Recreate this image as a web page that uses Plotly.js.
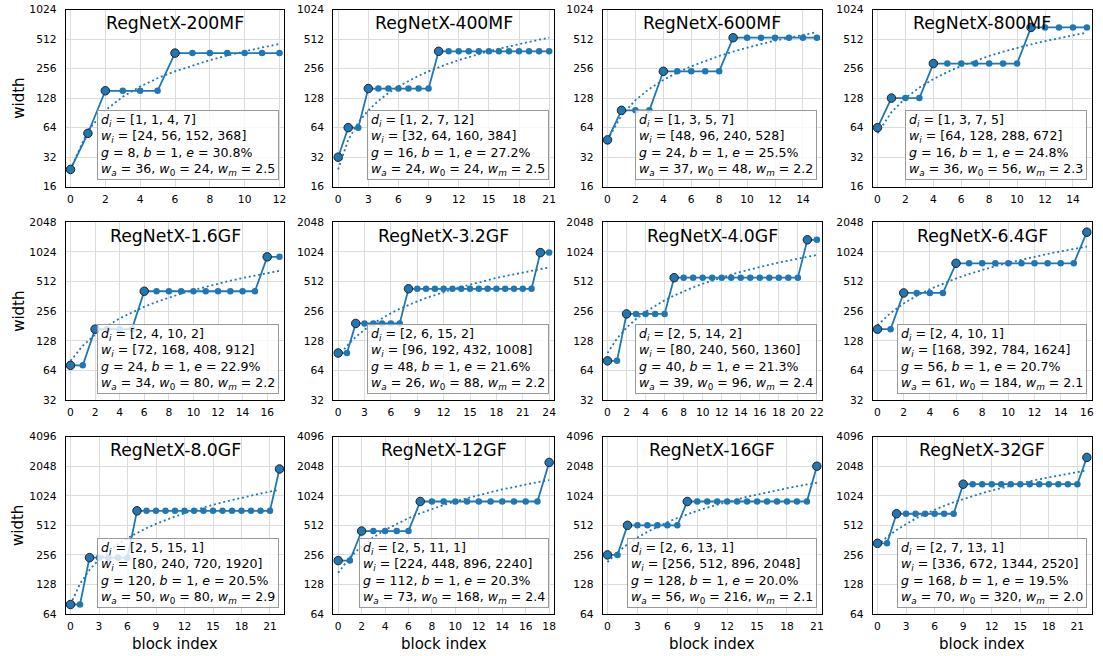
<!DOCTYPE html>
<html><head><meta charset="utf-8">
<script src="https://cdn.plot.ly/plotly-3.0.1.min.js"></script>
<style>html,body{margin:0;padding:0;background:#fff}#chart{width:1103px;height:656px}</style>
</head><body><div id="chart"></div>
<script>
const models = ["RegNetX-200MF","RegNetX-400MF","RegNetX-600MF","RegNetX-800MF",
                "RegNetX-1.6GF","RegNetX-3.2GF","RegNetX-4.0GF","RegNetX-6.4GF",
                "RegNetX-8.0GF","RegNetX-12GF","RegNetX-16GF","RegNetX-32GF"];
const depths = [[1,1,4,7],[1,2,7,12],[1,3,5,7],[1,3,7,5],
                [2,4,10,2],[2,6,15,2],[2,5,14,2],[2,4,10,1],
                [2,5,15,1],[2,5,11,1],[2,6,13,1],[2,7,13,1]];
const widths = [[24,56,152,368],[32,64,160,384],[48,96,240,528],[64,128,288,672],
                [72,168,408,912],[96,192,432,1008],[80,240,560,1360],[168,392,784,1624],
                [80,240,720,1920],[224,448,896,2240],[256,512,896,2048],[336,672,1344,2520]];
const groups = [8,16,24,16,24,48,40,56,120,112,128,168];
const bottleneck = [1,1,1,1,1,1,1,1,1,1,1,1];
const errors = ["30.8","27.2","25.5","24.8","22.9","21.6","21.3","20.7","20.5","20.3","20.0","19.5"];
const wA = [36,24,37,36,34,26,39,61,50,73,56,70];
const w0 = [24,24,48,56,80,88,96,184,80,168,216,320];
const wM = ["2.5","2.5","2.2","2.3","2.2","2.2","2.4","2.1","2.9","2.4","2.1","2.0"];
const rowYTicks = [[16,32,64,128,256,512,1024],[32,64,128,256,512,1024,2048],[64,128,256,512,1024,2048,4096]];
const xTickStep = [2,3,2,2, 2,3,2,2, 3,2,3,3];

const W = 1103, H = 656;
const colPx = [[65.7,284.3],[333.3,554],[602.7,821.7],[872.7,1091.7]];
const rowPx = [[9.5,186.7],[222.3,400],[436.7,614]];
const px = x => x / W, py = y => 1 - y / H;
const BLUE = '#1f77b4';
const FONT = 'DejaVu Sans, sans-serif';

const traces = [], annotations = [];
const layout = {
  width: W, height: H, margin: {l:0,r:0,t:0,b:0},
  paper_bgcolor: '#fff', plot_bgcolor: '#fff', showlegend: false,
  font: {family: FONT, color: '#000'}
};

models.forEach((name, k) => {
  const r = Math.floor(k / 4), c = k % 4;
  const ax = k === 0 ? '' : String(k + 1);
  const xa = 'x' + ax, ya = 'y' + ax;
  const bx = [], by = [], sx = [], sy = [];
  let j = 0;
  depths[k].forEach((d, s) => {
    sx.push(j); sy.push(widths[k][s]);
    for (let t = 0; t < d; t++) { bx.push(j); by.push(widths[k][s]); j++; }
  });
  const N = j;
  const ux = [], uy = [];
  for (let i = 0; i < N; i++) { ux.push(i); uy.push(w0[k] + wA[k] * i); }

  traces.push({x: ux, y: uy, xaxis: xa, yaxis: ya, type: 'scatter', mode: 'lines',
    line: {color: BLUE, width: 1.8, dash: '2px,2.8px'}, hoverinfo: 'skip'});
  traces.push({x: bx, y: by, xaxis: xa, yaxis: ya, type: 'scatter', mode: 'lines+markers',
    line: {color: BLUE, width: 1.8}, marker: {color: BLUE, size: 6.5}, hoverinfo: 'skip'});
  traces.push({x: sx, y: sy, xaxis: xa, yaxis: ya, type: 'scatter', mode: 'markers',
    marker: {color: BLUE, size: 8.5, line: {color: '#222', width: 1}}, hoverinfo: 'skip'});

  const m = 0.023 * (N - 1);
  const yt = rowYTicks[r];
  layout['xaxis' + ax] = {
    domain: [px(colPx[c][0]), px(colPx[c][1])], anchor: ya,
    range: [-m, N - 1 + m], tick0: 0, dtick: xTickStep[k],
    showline: true, mirror: true, linecolor: '#000', linewidth: 1,
    showgrid: true, gridcolor: '#dcdcdc', gridwidth: 1, zeroline: false,
    ticks: '', ticklabelstandoff: 2,
    tickfont: {family: FONT, size: 10.7, color: '#000'}
  };
  layout['yaxis' + ax] = {
    domain: [py(rowPx[r][1]), py(rowPx[r][0])], anchor: xa, type: 'log',
    range: [Math.log10(yt[0]), Math.log10(yt[yt.length - 1])],
    tickmode: 'array', tickvals: yt, ticktext: yt.map(String),
    showline: true, mirror: true, linecolor: '#000', linewidth: 1,
    showgrid: true, gridcolor: '#dcdcdc', gridwidth: 1, zeroline: false,
    ticks: '', ticklabelstandoff: 6,
    tickfont: {family: FONT, size: 10.7, color: '#000'}
  };

  const cx = (colPx[c][0] + colPx[c][1]) / 2;
  annotations.push({xref: 'paper', yref: 'paper', x: px(cx), y: py(rowPx[r][0] + 13.5),
    xanchor: 'center', yanchor: 'middle', showarrow: false, text: name,
    font: {family: FONT, size: 17.3, color: '#000'}});

  const txt = '<i>d<sub>i</sub></i> = [' + depths[k].join(', ') + ']<br>' +
              '<i>w<sub>i</sub></i> = [' + widths[k].join(', ') + ']<br>' +
              '<i>g</i> = ' + groups[k] + ', <i>b</i> = ' + bottleneck[k] + ', <i>e</i> = ' + errors[k] + '%<br>' +
              '<i>w<sub>a</sub></i> = ' + wA[k] + ', <i>w</i><sub>0</sub> = ' + w0[k] + ', <i>w<sub>m</sub></i> = ' + wM[k];
  annotations.push({xref: 'paper', yref: 'paper', x: px(colPx[c][1] - 5), y: py(rowPx[r][1] - 6.5),
    xanchor: 'right', yanchor: 'bottom', showarrow: false, align: 'left', valign: 'middle', text: txt,
    height: 62, bgcolor: 'rgba(255,255,255,0.8)', bordercolor: '#999', borderwidth: 1, borderpad: 3,
    font: {family: FONT, size: 12.6, color: '#000'}});

  if (c === 0) {
    annotations.push({xref: 'paper', yref: 'paper', x: px(18.7), y: py((rowPx[r][0] + rowPx[r][1]) / 2),
      xanchor: 'center', yanchor: 'middle', showarrow: false, text: 'width', textangle: -90,
      font: {family: FONT, size: 15, color: '#000'}});
  }
  if (r === 2) {
    annotations.push({xref: 'paper', yref: 'paper', x: px(cx), y: py(644),
      xanchor: 'center', yanchor: 'middle', showarrow: false, text: 'block index',
      font: {family: FONT, size: 15, color: '#000'}});
  }
});
layout.annotations = annotations;
Plotly.newPlot('chart', traces, layout, {displayModeBar: false, staticPlot: true});
</script></body></html>
